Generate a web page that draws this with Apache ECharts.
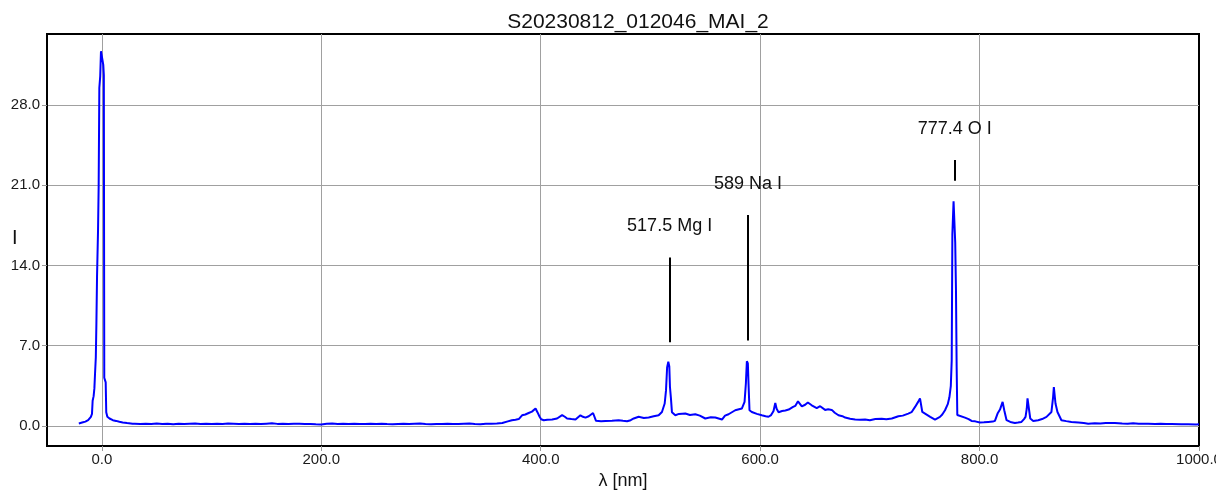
<!DOCTYPE html>
<html>
<head>
<meta charset="utf-8">
<script src="https://cdn.jsdelivr.net/npm/echarts@6/dist/echarts.min.js"></script>
<style>
html,body{margin:0;padding:0;background:#fff;}
#c{width:1216px;height:490px;}
</style>
</head>
<body>
<div id="c"></div>
<script>
const titleText = 'S20230812_012046_MAI_2';
const xName = 'λ [nm]';
const yName = 'I';

const wavelengths = [
-21,-18,-15,-12.5,-11,-10,-9,-8.4,-7.5,-6.8,-6.2,-5.5,-5,-4.4,-3.5,-2.9,-2.3,-1.5,-0.8,0.5,1.3,1.8,2.2,3.5,4,5,7,10,13,16,19,23,28,
30,35,40,45,50,55,60,65,70,75,80,85,90,95,100,105,110,115,120,125,130,135,140,145,150,155,160,165,170,175,180,185,190,195,200,
205,210,215,220,225,230,235,240,245,250,255,260,265,270,275,280,285,290,295,300,305,310,315,320,325,330,335,340,
345,350,355,360,365,370,373.7,377,380,383,386,389,392,395.3,397,399,400.4,402.8,406,410.4,414.9,419.5,422,424,428,431.7,
436.2,438.5,440.8,443.8,447.7,450.4,455,459,465,471,475,478.7,482,484.8,489.3,494,498.4,503,507.5,
510.5,513,514.2,515.2,516.3,517.2,517.8,518.7,519.6,522.7,526,531.8,536,540.9,545,550,555,559.1,565.2,568,571.2,577.3,
583.3,585.8,587,587.9,588.8,589.4,590.3,592.4,597,601.5,605,607.6,610,612.2,613.8,615,616.8,620,623,626,630,632,634.5,
638,641,643.5,647,651.6,654.7,659.2,662,665.3,668,671.4,675,677.5,682,686.6,691,695.7,700,705,710.8,715,720,726,730,
735,738,741.2,744,745.7,747.8,750.3,755,759.4,763.9,766,768.5,771,772.5,773.8,774.6,775.2,776.3,777.2,777.8,778.5,779.1,
779.7,781.2,786.7,790,792.7,796,800.3,804,807.9,812,814,816.4,818.6,820,821,822.5,824.6,828,832.2,835,838.2,840.5,841.9,
843,843.7,845,846.2,848.9,853.4,857,861,865.5,867,867.7,869.2,871,874.6,879,883.7,890,895,899,905,910,915,923.3,930,935,
940,945,953.6,960,965,970,975,983.9,990,997.5,1000
];
const intensities = [
0.22,0.3,0.38,0.5,0.65,0.8,1.05,2.2,2.6,3.3,4.6,6.0,8.8,13,17,21,29.5,30.5,32.7,32.8,31.5,30.6,4.2,3.8,1.2,0.8,0.65,0.5,0.44,0.36,0.3,0.25,0.2,
0.2,0.18,0.2,0.17,0.22,0.18,0.2,0.15,0.2,0.17,0.2,0.22,0.18,0.2,0.17,0.2,0.18,0.22,0.2,0.17,0.2,0.18,0.2,0.16,0.2,0.24,0.18,0.2,0.17,0.19,0.2,0.16,0.18,0.14,0.12,
0.2,0.22,0.18,0.2,0.17,0.2,0.18,0.16,0.2,0.18,0.2,0.17,0.15,0.18,0.2,0.16,0.19,0.22,0.18,0.15,0.18,0.16,0.2,0.18,0.17,0.2,0.22,0.18,
0.15,0.2,0.2,0.22,0.26,0.4,0.5,0.55,0.6,0.93,1.0,1.13,1.25,1.52,1.2,0.8,0.58,0.5,0.55,0.56,0.65,0.95,0.8,0.65,0.6,0.56,
0.93,0.8,0.73,0.85,1.13,0.45,0.42,0.44,0.45,0.5,0.45,0.41,0.5,0.65,0.8,0.7,0.73,0.85,0.93,
1.22,1.96,3.1,5.1,5.6,5.2,3.4,2.4,1.2,0.93,1.05,1.08,0.95,1.02,0.9,0.65,0.75,0.73,0.56,0.9,1.02,1.37,
1.52,2.1,3.7,5.65,5.45,3.7,1.37,1.22,1.05,0.93,0.85,0.8,0.95,1.3,2.0,1.5,1.2,1.3,1.35,1.43,1.66,1.75,2.15,
1.7,1.85,2.05,1.8,1.55,1.72,1.4,1.45,1.4,1.15,0.93,0.85,0.73,0.62,0.56,0.55,0.56,0.5,0.6,0.62,0.58,0.65,0.85,0.9,
1.08,1.2,1.66,2.1,2.4,1.22,1.08,0.8,0.56,0.79,1.0,1.37,1.9,2.5,3.5,5.7,16.7,19.6,19.5,16,11.8,5.2,
0.95,0.85,0.73,0.6,0.44,0.4,0.3,0.32,0.35,0.38,0.44,1.08,1.43,1.6,2.1,1.37,0.5,0.35,0.26,0.3,0.35,0.6,0.79,
1.5,2.4,2.25,0.65,0.44,0.5,0.6,0.79,1.22,2.5,3.4,1.96,1.22,0.5,0.42,0.35,0.3,0.25,0.2,0.24,0.22,0.25,0.26,0.22,0.2,
0.24,0.2,0.2,0.18,0.2,0.16,0.18,0.15,0.14,0.12,0.14
];

const annoWave = [517.5, 589, 777.4];
const annoText = ['517.5 Mg I', '589 Na I', '777.4 O I'];
const annoLow = [7.3, 7.45, 21.4];
const annoHigh = [14.7, 18.4, 23.2];

const xMin = -50, xMax = 1000, xStep = 200;
const yMin = -1.75, yMax = 34.2, yStep = 7;

const FONT = '"Liberation Sans", Arial, sans-serif';
const spectrum = wavelengths.map((w, i) => [w, intensities[i]]);
const markLines = annoWave.map((w, i) => [
  {coord: [w, annoLow[i]], name: annoText[i]},
  {coord: [w, annoHigh[i]]}
]);

const chart = echarts.init(document.getElementById('c'), null, {renderer: 'canvas'});
chart.setOption({
  animation: false,
  backgroundColor: '#fff',
  title: {
    text: titleText, left: 633, top: 7, textAlign: 'center',
    textStyle: {fontFamily: FONT, fontSize: 21, fontWeight: 'normal', color: '#111'}
  },
  graphic: [{
    type: 'text', left: 12, top: 228,
    style: {text: yName, fontFamily: FONT, fontSize: 20, fill: '#111'}
  }],
  grid: {left: 47, right: 17, top: 34, bottom: 44, outerBoundsMode: 'none', containLabel: false,
    show: true, borderColor: '#000', borderWidth: 2, backgroundColor: '#fff'},
  xAxis: {
    type: 'value', min: xMin, max: xMax, minInterval: xStep, maxInterval: xStep,
    name: xName, nameLocation: 'middle', nameGap: 21,
    nameTextStyle: {fontFamily: FONT, fontSize: 18, color: '#111'},
    axisLine: {show: true, onZero: false, lineStyle: {color: '#000', width: 2}},
    axisTick: {show: true, length: 5, lineStyle: {color: '#999'}},
    axisLabel: {show: true, showMinLabel: false, hideOverlap: false, margin: 6, color: '#1a1a1a', fontFamily: FONT, fontSize: 15,
      formatter: v => v.toFixed(1)},
    splitLine: {show: true, showMinLine: false, showMaxLine: false, lineStyle: {color: '#a0a0a0', width: 1}}
  },
  yAxis: {
    type: 'value', min: yMin, max: yMax, minInterval: yStep, maxInterval: yStep,
    axisLine: {show: true, onZero: false, lineStyle: {color: '#000', width: 2}},
    axisTick: {show: true, length: 5, lineStyle: {color: '#999'}},
    axisLabel: {show: true, showMinLabel: false, showMaxLabel: false, margin: 7, color: '#1a1a1a', fontFamily: FONT, fontSize: 15,
      formatter: v => v.toFixed(1)},
    splitLine: {show: true, showMinLine: false, showMaxLine: false, lineStyle: {color: '#a0a0a0', width: 1}}
  },
  series: [
    {
      type: 'line', data: spectrum, showSymbol: false, symbol: 'none',
      lineStyle: {color: '#0000ff', width: 2}, itemStyle: {color: '#0000ff'},
      markLine: {
        silent: true, symbol: ['none', 'none'],
        label: {show: true, position: 'end', distance: 22, formatter: p => p.name,
          fontFamily: FONT, fontSize: 18, color: '#111', textBorderWidth: 0},
        lineStyle: {color: '#000', width: 2, type: 'solid'},
        emphasis: {disabled: true},
        data: markLines
      },
      z: 2
    }
  ]
});
</script>
</body>
</html>
